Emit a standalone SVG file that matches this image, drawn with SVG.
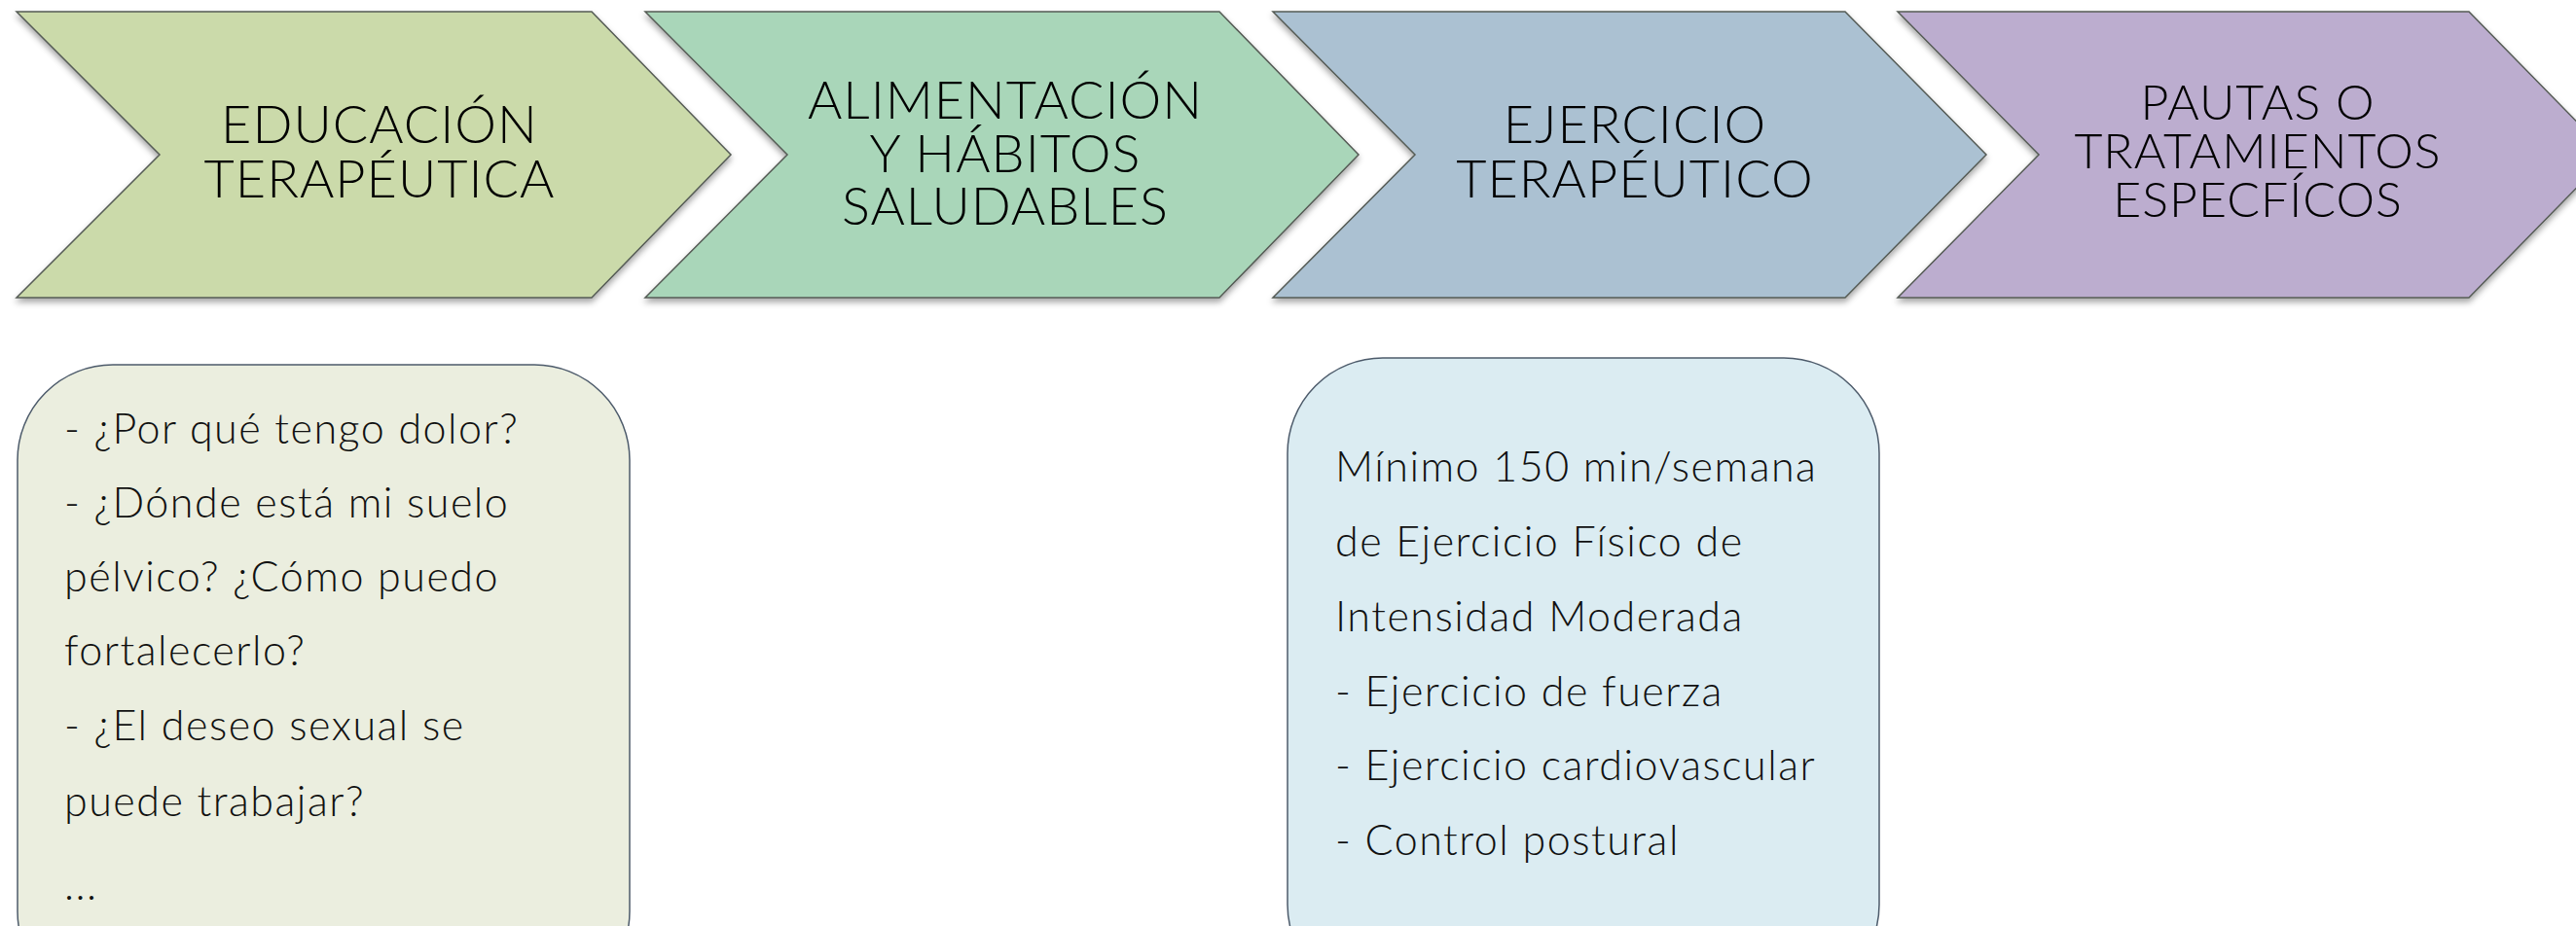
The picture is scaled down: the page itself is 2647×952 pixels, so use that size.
<svg xmlns="http://www.w3.org/2000/svg" width="2647" height="952" viewBox="0 0 2647 952">
<style>
.chev{stroke:#555b55;stroke-width:1.5;filter:url(#sh)}
.ct{font-family:Lato,"Open Sans",sans-serif;font-size:54px;letter-spacing:1px;fill:#000;text-anchor:middle;font-weight:300}
.box{stroke:#4d5b6b;stroke-width:1.5}
.bt{font-family:Lato,"Open Sans",sans-serif;font-size:43px;letter-spacing:1.5px;fill:#111;font-weight:300}
</style>
<defs>
<filter id="sh" x="-5%" y="-5%" width="110%" height="115%">
<feDropShadow dx="0" dy="4" stdDeviation="3" flood-color="#000" flood-opacity="0.35"/>
</filter>
</defs>
<rect width="2647" height="952" fill="#fff"/>
<g id="chev1">
<polygon class="chev" fill="#cbdaaa" points="17,12 608,12 751,159 608,306 17,306 164,159"/>
<text class="ct" x="390" y="147">EDUCACIÓN</text>
<text class="ct" x="390" y="203">TERAPÉUTICA</text>
</g>
<g id="chev2">
<polygon class="chev" fill="#a9d6b9" points="663,12 1253,12 1396,159 1253,306 663,306 809,159"/>
<text class="ct" x="1033" y="122">ALIMENTACIÓN</text>
<text class="ct" x="1033" y="177">Y HÁBITOS</text>
<text class="ct" x="1033" y="231">SALUDABLES</text>
</g>
<g id="chev3">
<polygon class="chev" fill="#abc1d2" points="1308,12 1896,12 2041,159 1896,306 1308,306 1454,159"/>
<text class="ct" x="1680" y="147">EJERCICIO</text>
<text class="ct" x="1680" y="203">TERAPÉUTICO</text>
</g>
<g id="chev4">
<polygon class="chev" fill="#bcadcf" points="1950,12 2537,12 2681,159 2537,306 1950,306 2095,159"/>
<text class="ct" x="2320" y="123" style="font-size:50px">PAUTAS O</text>
<text class="ct" x="2320" y="173" style="font-size:50px">TRATAMIENTOS</text>
<text class="ct" x="2320" y="223" style="font-size:50px">ESPECFÍCOS</text>
</g>
<g id="box1">
<rect class="box" fill="#ebeedf" x="18" y="375" width="629" height="660" rx="98" ry="98"/>
<text class="bt" x="66" y="456">- ¿Por qué tengo dolor?</text>
<text class="bt" x="66" y="532">- ¿Dónde está mi suelo</text>
<text class="bt" x="66" y="608">pélvico? ¿Cómo puedo</text>
<text class="bt" x="66" y="684">fortalecerlo?</text>
<text class="bt" x="66" y="761">- ¿El deseo sexual se</text>
<text class="bt" x="66" y="839">puede trabajar?</text>
<text class="bt" x="66" y="925">...</text>
</g>
<g id="box2">
<rect class="box" fill="#dbecf2" x="1323" y="368" width="608" height="660" rx="98" ry="98"/>
<text class="bt" x="1372" y="495">Mínimo 150 min/semana</text>
<text class="bt" x="1372" y="572">de Ejercicio Físico de</text>
<text class="bt" x="1372" y="649">Intensidad Moderada</text>
<text class="bt" x="1372" y="726">- Ejercicio de fuerza</text>
<text class="bt" x="1372" y="802">- Ejercicio cardiovascular</text>
<text class="bt" x="1372" y="879">- Control postural</text>
</g>
<g id="connectors"/>
</svg>
